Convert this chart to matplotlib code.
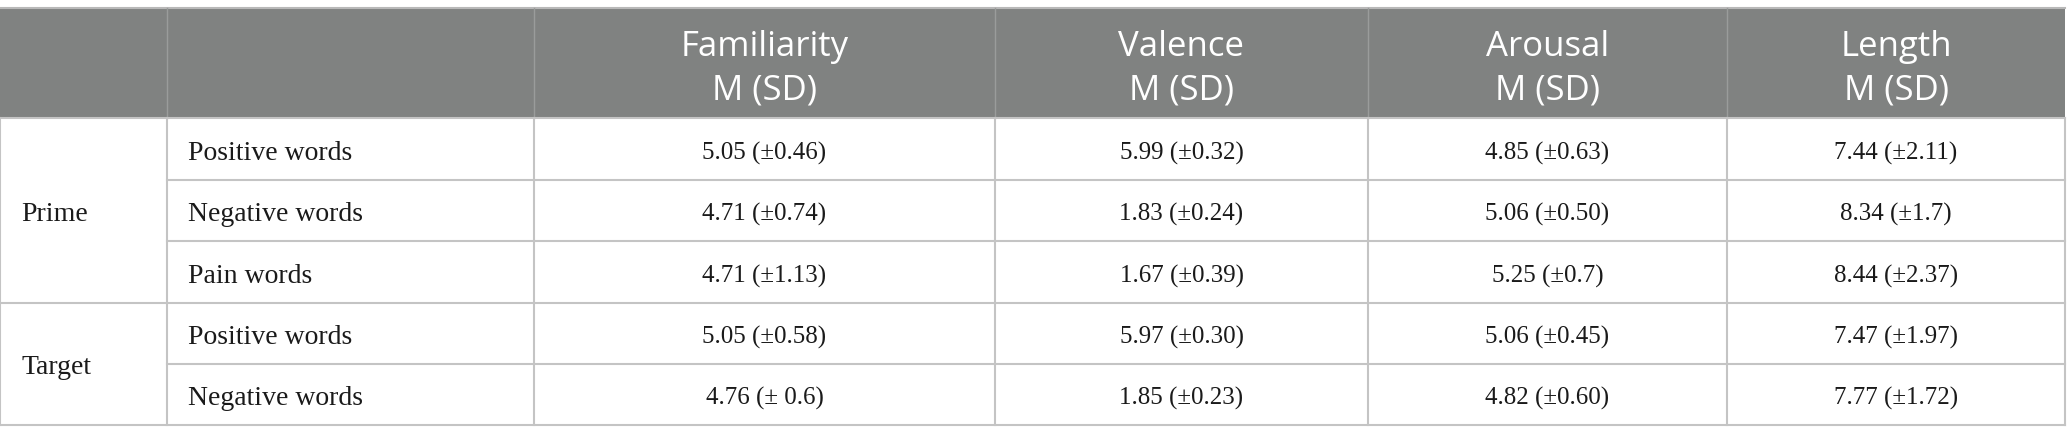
import matplotlib
matplotlib.use("Agg")
import matplotlib.pyplot as plt
from matplotlib.patches import Rectangle

# table content
columns = ["Familiarity", "Valence", "Arousal", "Length"]
groups = ["Prime", "Target"]
group_sizes = [3, 2]
row_labels = ["Positive words", "Negative words", "Pain words",
              "Positive words", "Negative words"]
familiarity = ["5.05 (±0.46)", "4.71 (±0.74)", "4.71 (±1.13)", "5.05 (±0.58)", "4.76 (± 0.6)"]
valence = ["5.99 (±0.32)", "1.83 (±0.24)", "1.67 (±0.39)", "5.97 (±0.30)", "1.85 (±0.23)"]
arousal = ["4.85 (±0.63)", "5.06 (±0.50)", "5.25 (±0.7)", "5.06 (±0.45)", "4.82 (±0.60)"]
length = ["7.44 (±2.11)", "8.34 (±1.7)", "8.44 (±2.37)", "7.47 (±1.97)", "7.77 (±1.72)"]
values = [familiarity, valence, arousal, length]

# layout in pixels
W, H = 2067, 444
col_x = [0, 167, 534, 995, 1368, 1727, 2065]
top, head_bot = 8, 118
row_y = [118, 180, 241, 303, 364, 425]

header_bg = "#808281"
line_col = "#c4c4c4"
serif = "Liberation Serif"
sans = "Open Sans"
txt = "#1a1a1a"

fig = plt.figure(figsize=(W / 100, H / 100), dpi=100)
ax = fig.add_axes([0, 0, 1, 1])
ax.set_xlim(0, W)
ax.set_ylim(H, 0)
ax.axis("off")

# header block
ax.add_patch(Rectangle((col_x[0], top), col_x[-1] - col_x[0], head_bot - top,
                       facecolor=header_bg, edgecolor="none"))
ax.plot([col_x[0], col_x[-1]], [top, top], color="#b8b8b8", lw=1.5)
for x in col_x[1:-1]:
    ax.plot([x, x], [top, head_bot], color="#9a9c9b", lw=1)

for i, name in enumerate(columns):
    cx = (col_x[i + 2] + col_x[i + 3]) / 2
    ax.text(cx, 56, name, ha="center", va="baseline", color="white",
            fontsize=25, family=sans)
    ax.text(cx, 99, "M (SD)", ha="center", va="baseline", color="white",
            fontsize=25, family=sans)

# body grid
for x in col_x:
    ax.plot([x, x], [head_bot, row_y[-1]], color=line_col, lw=1.5)
start = 0
group_edges = [0]
for n in group_sizes:
    start += n
    group_edges.append(start)
for r in range(len(row_labels) + 1):
    x0 = col_x[0] if r in group_edges else col_x[1]
    ax.plot([x0, col_x[-1]], [row_y[r], row_y[r]], color=line_col, lw=1.5)

# group labels
for g, name in enumerate(groups):
    y0 = row_y[group_edges[g]]
    y1 = row_y[group_edges[g + 1]]
    ax.text(21, (y0 + y1) / 2 + 10, name, ha="left", va="baseline",
            fontsize=20, family=serif, color=txt)

# rows
for r, label in enumerate(row_labels):
    cy = (row_y[r] + row_y[r + 1]) / 2
    ax.text(188, cy + 10.5, label, ha="left", va="baseline",
            fontsize=20, family=serif, color=txt)
    for c, col in enumerate(values):
        cx = (col_x[c + 2] + col_x[c + 3]) / 2
        ax.text(cx, cy + 10.5, col[r], ha="center", va="baseline",
                fontsize=18, family=serif, color=txt)

fig.savefig("out.png", dpi=100)
